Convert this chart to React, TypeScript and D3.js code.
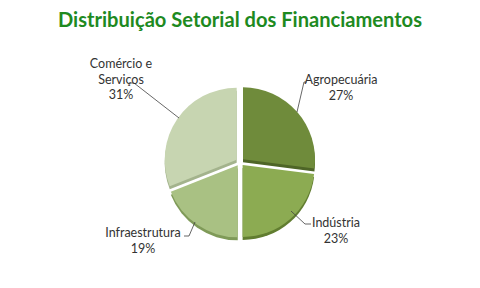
import React from "react";
import * as d3 from "d3";

const categories = ["Agropecuária", "Indústria", "Infraestrutura", "Comércio e Serviços"];
const values = [27, 23, 19, 31];
const colors = ["#6f8b3b", "#8cab52", "#a9c183", "#c7d5b1"];
const sideColors = ["#4e6527", "#617d30", "#7f9a58", "#a3b38c"];
const labelLines = [["Agropecuária", "27%"], ["Indústria", "23%"], ["Infraestrutura", "19%"], ["Comércio e", "Serviços", "31%"]];

const W = 480, H = 288;
const cx = 240, cy = 162, R = 72, explode = 4, depth = 3;

export default function App() {
  const pie = d3.pie<number>().sort(null).value((d) => d)(values);
  const arc = d3.arc<d3.PieArcDatum<number>>().innerRadius(0).outerRadius(R);
  const labelPos = [
    { x: 341, y: 84 },
    { x: 336, y: 227 },
    { x: 143, y: 237 },
    { x: 121, y: 68 },
  ];
  const leaders = [
    [[297, 112], [304, 82], [307, 82]],
    [[291, 211], [305, 224], [311, 224]],
    [[195, 222], [189, 236], [184, 236]],
    [[179, 118], [134, 83], [129, 83]],
  ];
  const line = d3.line();
  return (
    <svg width={W} height={H} style={{ position: "absolute", left: 0, top: 0, background: "#fff" }}>
      <rect width={W} height={H} fill="#fff" />
      <text x={240} y={27} textAnchor="middle" fontFamily="Lato, 'Open Sans', sans-serif" fontWeight="bold" fontSize={20} fill="#1e8a1f" textLength={364} lengthAdjust="spacingAndGlyphs">
        Distribuição Setorial dos Financiamentos
      </text>
      <g transform={`translate(${cx},${cy})`}>
        {pie.map((p, i) => {
          const mid = (p.startAngle + p.endAngle) / 2;
          const dx = Math.sin(mid) * explode, dy = -Math.cos(mid) * explode;
          return (
            <g key={"s" + i} transform={`translate(${dx},${dy + depth})`}>
              <path d={arc(p) || ""} fill={sideColors[i]} />
            </g>
          );
        })}
        {pie.map((p, i) => {
          const mid = (p.startAngle + p.endAngle) / 2;
          const dx = Math.sin(mid) * explode, dy = -Math.cos(mid) * explode;
          return (
            <g key={"p" + i} transform={`translate(${dx},${dy})`}>
              <path d={arc(p) || ""} fill={colors[i]} />
            </g>
          );
        })}
      </g>
      {leaders.map((l, i) => (
        <path key={"l" + i} d={line(l as [number, number][]) || ""} fill="none" stroke="#404040" strokeWidth={0.8} />
      ))}
      {labelLines.map((lines, i) => (
        <text key={"t" + i} x={labelPos[i].x} y={labelPos[i].y} textAnchor="middle" fontFamily="Lato, 'Open Sans', sans-serif" fontSize={12.5} fill="#333">
          {lines.map((s, j) => (
            <tspan key={j} x={labelPos[i].x} y={labelPos[i].y + j * 15.5}>{s}</tspan>
          ))}
        </text>
      ))}
      <title>{categories.join(", ")}</title>
    </svg>
  );
}
